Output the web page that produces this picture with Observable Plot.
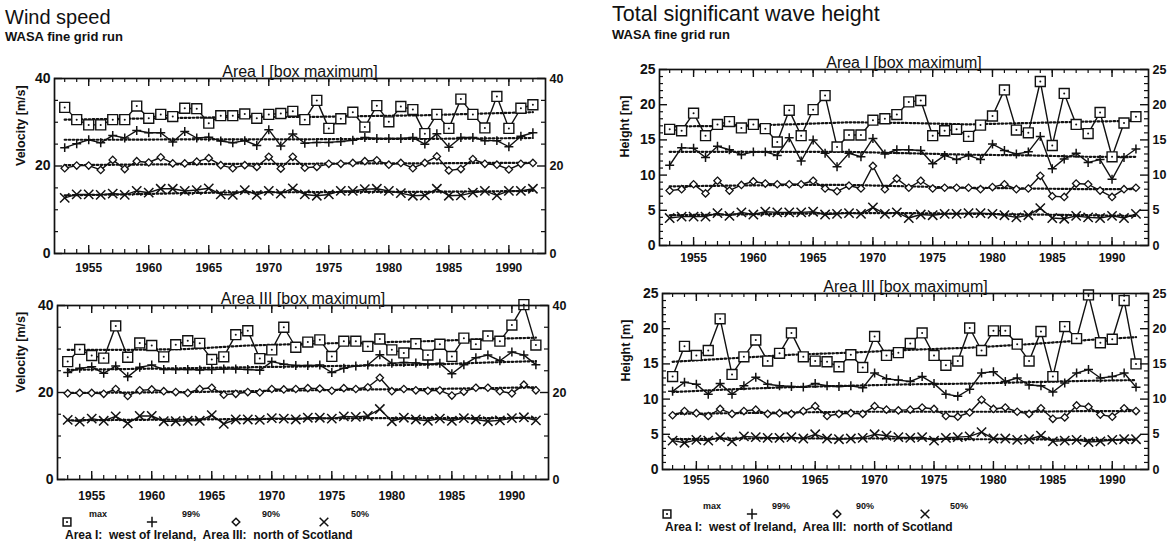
<!DOCTYPE html>
<html><head><meta charset="utf-8">
<script src="https://cdn.jsdelivr.net/npm/d3@7"></script>
<script src="https://cdn.jsdelivr.net/npm/@observablehq/plot@0.6"></script>
<style>
html,body{margin:0;padding:0;background:#fff;}
#root{position:relative;width:1176px;height:548px;overflow:hidden;font-family:"Liberation Sans",Arial,Helvetica,sans-serif;color:#111;}
.abs{position:absolute;white-space:pre;line-height:1;}
.title{font-size:20px;}
.title2{font-size:21.5px;}
.sub{font-size:13px;font-weight:bold;}
.cap{font-size:12px;font-weight:bold;}
</style></head><body><div id="root"></div>
<script>
// ---------------- data ----------------
const years = [1953,1954,1955,1956,1957,1958,1959,1960,1961,1962,1963,1964,1965,1966,1967,1968,1969,1970,1971,1972,
               1973,1974,1975,1976,1977,1978,1979,1980,1981,1982,1983,1984,1985,1986,1987,1988,1989,1990,1991,1992];
const xTickYears = [1955,1960,1965,1970,1975,1980,1985,1990];
const trendYears = [1953,1958,1963,1968,1973,1978,1983,1988,1992];
const seriesNames = ["max","99%","90%","50%"];
const windTicks = [0,20,40];
const windMinor = [5,10,15,25,30,35];
const waveTicks = [0,5,10,15,20,25];
const waveMinor = [1,2,3,4,6,7,8,9,11,12,13,14,16,17,18,19,21,22,23,24];

// Wind speed, Area I (west of Ireland) [m/s]
const windI_max = [33.4,30.6,29.4,29.4,30.6,30.6,33.7,30.9,31.8,31.3,33.2,33.1,29.8,31.5,31.5,31.9,30.9,31.8,32.0,32.5,
                   30.6,35.0,28.6,30.8,32.3,28.9,33.8,30.1,33.6,32.9,27.4,31.8,28.6,35.3,31.8,28.7,35.9,28.6,33.2,34.0];
const windI_p99 = [24.2,25.1,26.0,25.3,27.0,26.4,28.1,27.6,27.6,25.5,27.9,26.4,26.6,25.7,25.3,25.8,24.7,28.3,24.6,27.3,
                   25.2,25.4,25.4,25.6,25.9,26.5,26.3,26.3,26.3,26.5,25.0,27.4,24.3,26.5,26.5,25.8,25.8,24.4,26.8,27.6];
const windI_p90 = [19.5,20.1,20.1,19.1,21.4,19.3,21.1,20.8,22.0,20.6,20.6,21.0,21.8,20.2,19.5,20.2,19.8,22.1,19.4,22.1,
                   19.6,19.8,20.5,20.5,20.7,21.1,21.3,20.3,20.7,19.5,20.7,22.2,19.0,19.3,21.6,20.5,20.3,19.2,20.5,20.7];
const windI_p50 = [12.7,13.5,13.5,13.4,13.7,13.4,14.3,13.9,14.8,14.8,14.3,14.5,14.9,13.5,13.4,14.5,13.4,14.3,13.7,14.9,
                   13.5,13.2,13.5,14.3,14.3,14.7,14.8,14.3,13.8,13.2,13.3,14.8,13.2,13.3,13.9,14.3,13.3,14.3,14.3,14.8];
const windI_tmax = [30.6,30.8,31.0,31.2,31.2,31.4,31.6,32.0,32.3];
const windI_t99  = [26.0,26.0,26.1,26.1,26.1,26.2,26.2,26.3,26.4];
const windI_t90  = [20.2,20.3,20.4,20.5,20.5,20.6,20.6,20.7,20.7];
const windI_t50  = [13.3,13.5,13.8,14.0,14.0,14.1,14.1,14.2,14.3];

// Wind speed, Area III (north of Scotland) [m/s]
const windIII_max = [27.1,29.9,28.5,27.9,35.3,28.1,31.4,30.8,28.2,31.0,31.9,31.3,27.6,28.2,33.3,34.2,27.8,29.8,35.0,30.4,
                     31.6,32.1,28.3,31.8,31.8,30.6,32.3,29.8,29.1,31.2,28.6,31.1,28.3,32.5,31.1,33.0,31.8,35.5,40.2,30.9];
const windIII_p99 = [24.6,25.6,25.9,24.4,26.1,23.6,25.8,26.3,25.3,25.3,25.3,25.2,25.3,25.4,25.4,25.3,25.1,27.1,26.5,26.2,
                     26.2,26.3,24.6,25.6,26.1,26.3,28.7,26.7,26.9,26.8,26.5,26.7,24.3,26.4,28.0,28.6,27.3,29.3,28.6,26.4];
const windIII_p90 = [19.8,19.9,19.9,19.7,20.8,19.2,20.5,20.7,20.3,20.1,19.9,20.8,21.1,19.5,19.7,20.1,20.0,20.8,20.7,20.8,
                     21.0,20.9,20.4,21.0,20.8,21.2,23.4,20.3,20.8,20.5,20.4,20.5,19.3,20.2,21.1,21.1,20.3,19.8,21.8,20.5];
const windIII_p50 = [13.7,13.3,14.0,13.5,14.5,12.9,14.6,14.6,13.4,13.4,13.5,13.5,14.8,12.8,13.8,13.8,13.7,14.1,14.0,13.8,
                     14.2,14.2,14.0,14.5,14.4,14.6,16.2,13.4,14.2,13.8,13.5,14.0,13.5,14.1,13.8,13.4,13.6,14.1,14.3,13.6];
const windIII_tmax = [29.8,29.8,30.0,30.8,31.2,31.5,31.8,32.3,32.6];
const windIII_t99  = [25.2,25.4,25.6,25.8,26.0,26.2,26.4,26.9,27.2];
const windIII_t90  = [19.9,20.0,20.1,20.3,20.5,20.7,20.8,21.0,21.2];
const windIII_t50  = [13.6,13.7,13.8,13.9,14.0,14.1,14.1,14.1,14.2];

// Total significant wave height, Area I [m]
const waveI_max = [16.5,16.3,18.8,15.6,17.2,17.6,16.7,17.2,16.6,14.7,19.2,15.6,19.3,21.3,14.0,15.7,15.7,17.8,18.0,18.6,
                   20.4,20.6,15.6,16.3,16.5,15.5,17.1,18.4,22.1,16.4,16.0,23.3,14.2,21.6,17.2,15.9,18.9,12.6,17.4,18.3];
const waveI_p99 = [11.4,13.9,13.8,12.5,14.1,13.6,12.9,13.3,13.3,12.8,15.3,12.0,15.0,13.1,11.2,13.1,12.6,15.2,13.0,13.6,
                   13.6,13.5,11.6,12.8,12.2,12.8,12.2,14.4,13.5,13.0,13.3,15.5,10.9,12.3,13.1,11.8,12.2,9.4,12.5,13.7];
const waveI_p90 = [7.8,8.0,8.7,7.4,9.2,7.8,8.6,9.1,8.8,8.7,8.7,8.7,9.2,8.1,7.7,8.5,8.1,11.3,8.0,9.5,
                   8.2,9.2,8.1,8.2,8.2,8.2,8.0,8.3,8.7,8.0,8.1,9.9,7.0,6.9,8.8,8.7,7.8,6.9,8.0,8.2];
const waveI_p50 = [3.9,4.1,4.1,4.1,4.6,4.2,4.7,4.4,4.8,4.7,4.7,4.7,4.8,4.4,4.5,4.6,4.5,5.4,4.5,4.7,
                   3.9,4.4,4.3,4.5,4.5,4.6,4.6,4.5,4.3,4.0,4.3,5.3,3.9,3.8,4.2,4.0,3.9,4.2,3.9,4.5];
const waveI_tmax = [16.9,17.0,17.2,17.5,17.4,17.2,17.4,17.6,17.7];
const waveI_t99  = [13.3,13.3,13.3,13.3,13.1,12.9,12.8,12.6,12.6];
const waveI_t90  = [8.4,8.5,8.6,8.6,8.4,8.2,8.1,8.0,8.0];
const waveI_t50  = [4.3,4.4,4.5,4.6,4.6,4.5,4.4,4.3,4.2];

// Total significant wave height, Area III [m]
const waveIII_max = [13.2,17.5,16.2,16.9,21.4,13.5,16.0,18.4,15.4,16.5,19.4,16.0,15.4,15.3,14.6,16.3,14.5,18.9,16.2,16.6,
                     17.9,19.4,16.2,14.8,15.4,20.1,16.9,19.7,19.7,17.8,15.4,19.6,13.2,20.3,18.6,24.8,18.0,18.5,24.0,15.0];
const waveIII_p99 = [11.1,12.4,12.1,10.7,12.2,10.7,11.9,13.1,12.1,11.9,11.8,11.7,12.2,11.9,11.8,11.9,11.6,13.7,12.9,12.7,
                     12.5,13.2,12.2,10.7,10.4,11.4,13.7,13.9,12.5,13.0,12.0,11.9,11.0,12.3,13.7,14.2,13.0,13.2,13.7,11.7];
const waveIII_p90 = [7.7,8.3,8.0,7.6,8.6,7.9,8.3,8.5,7.9,8.0,7.9,8.3,9.0,7.6,7.9,8.0,7.9,9.0,8.5,8.4,
                     8.5,8.8,8.6,7.6,7.5,8.1,9.9,8.6,8.8,8.2,7.9,8.7,7.2,7.4,9.1,8.9,7.8,7.5,8.7,8.3];
const waveIII_p50 = [4.1,3.8,4.2,4.1,4.6,4.0,4.7,4.6,4.5,4.5,4.6,4.4,5.0,4.4,4.3,4.4,4.5,5.0,4.8,4.6,
                     4.5,4.6,4.1,4.5,4.6,4.7,5.3,4.4,4.4,4.2,4.3,4.8,4.0,4.1,4.2,3.9,4.0,4.2,4.3,4.3];
const waveIII_tmax = [15.3,15.8,16.3,16.6,17.0,17.3,17.8,18.4,18.8];
const waveIII_t99  = [11.0,11.4,11.7,11.9,12.1,12.2,12.4,12.6,12.7];
const waveIII_t90  = [7.9,8.0,8.1,8.2,8.2,8.2,8.2,8.3,8.3];
const waveIII_t50  = [4.3,4.4,4.4,4.4,4.4,4.3,4.3,4.2,4.2];

// ---------------- drawing ----------------
const FONT = '"Liberation Sans", Arial, Helvetica, sans-serif';
const INK = "#111";
const xDomain = [1952.15, 1993.05];
const root = document.getElementById("root");

function addText(txt, cls, left, top, extra) {
  const d = document.createElement("div");
  d.className = "abs " + cls;
  d.textContent = txt;
  d.style.left = left + "px";
  d.style.top = top + "px";
  if (extra) Object.assign(d.style, extra);
  root.appendChild(d);
}

function makePanel(cfg) {
  const {width, height, mL, mR, mT, mB} = cfg;
  const fw = width - mL - mR, fh = height - mT - mB;
  const rows = [];
  cfg.series.forEach((vals, i) => vals.forEach((v, j) => rows.push({year: years[j], value: v, s: seriesNames[i]})));
  const trows = [];
  cfg.trends.forEach((vals, i) => vals.forEach((v, j) => trows.push({year: trendYears[j], value: v, s: seriesNames[i]})));
  const of = n => rows.filter(r => r.s === n);
  const xy = {x: "year", y: "value"};
  const plot = Plot.plot({
    width, height, marginLeft: mL, marginRight: mR, marginTop: mT, marginBottom: mB,
    x: {domain: xDomain}, y: {domain: cfg.yDomain},
    style: {fontFamily: FONT, fontWeight: "bold", color: INK, background: "transparent", overflow: "visible"},
    marks: [
      Plot.line(trows, {...xy, z: "s", stroke: INK, strokeWidth: 2.2, strokeDasharray: "1.6,2.4"}),
      Plot.line(rows, {...xy, z: "s", stroke: INK, strokeWidth: 1.4}),
      Plot.dot(of("max"), {...xy, symbol: "square", r: 5.6, fill: "white", stroke: INK, strokeWidth: 1.4}),
      Plot.dot(of("max"), {...xy, r: 1, fill: INK}),
      Plot.dot(of("99%"), {...xy, symbol: "plus", r: 3, stroke: INK, strokeWidth: 1.5}),
      Plot.dot(of("90%"), {...xy, symbol: "diamond2", r: 3.3, fill: "white", stroke: INK, strokeWidth: 1.3}),
      Plot.dot(of("50%"), {...xy, symbol: "times", r: 4.3, stroke: INK, strokeWidth: 1.5}),
      Plot.frame({stroke: INK, strokeWidth: 1.7}),
      // inward ticks, bottom and top
      Plot.tickX(years, {x: d => d, insetTop: fh - 4, stroke: INK, strokeWidth: 1.2}),
      Plot.tickX(xTickYears, {x: d => d, insetTop: fh - 8, stroke: INK, strokeWidth: 1.4}),
      Plot.tickX(years, {x: d => d, insetBottom: fh - 4, stroke: INK, strokeWidth: 1.2}),
      Plot.tickX(xTickYears, {x: d => d, insetBottom: fh - 8, stroke: INK, strokeWidth: 1.4}),
      // inward ticks, left and right
      Plot.tickY(cfg.yMinor, {y: d => d, insetRight: fw - 4, stroke: INK, strokeWidth: 1.2}),
      Plot.tickY(cfg.yTicks, {y: d => d, insetRight: fw - 8, stroke: INK, strokeWidth: 1.4}),
      Plot.tickY(cfg.yMinor, {y: d => d, insetLeft: fw - 4, stroke: INK, strokeWidth: 1.2}),
      Plot.tickY(cfg.yTicks, {y: d => d, insetLeft: fw - 8, stroke: INK, strokeWidth: 1.4}),
      Plot.axisX({ticks: xTickYears, tickSize: 0, tickPadding: cfg.xPad, tickFormat: d => String(d), fontSize: 12, label: null}),
      Plot.axisY({anchor: "left", ticks: cfg.yTicks, tickSize: 0, tickPadding: 4, fontSize: 14, label: null}),
      Plot.axisY({anchor: "right", ticks: cfg.yTicks, tickSize: 0, tickPadding: 4, fontSize: 12.5, label: null}),
      Plot.text([cfg.title], {frameAnchor: "top", text: d => d, lineAnchor: "bottom", dy: -2, fontSize: 16, fontWeight: "normal", fill: INK}),
      Plot.text([cfg.yLabel], {frameAnchor: "left", text: d => d, rotate: -90, dx: cfg.yLabelDx, fontSize: 12.5, fontWeight: "bold", fill: INK})
    ]
  });
  plot.style.position = "absolute";
  plot.style.left = cfg.left + "px";
  plot.style.top = cfg.top + "px";
  root.appendChild(plot);
}

makePanel({left: 0, top: 40, width: 590, height: 240, mL: 54, mR: 45, mT: 38, mB: 27, xPad: 10,
  yDomain: [0, 40], yTicks: windTicks, yMinor: windMinor, yLabel: "Velocity [m/s]", yLabelDx: -34,
  title: "Area I [box maximum]",
  series: [windI_max, windI_p99, windI_p90, windI_p50], trends: [windI_tmax, windI_t99, windI_t90, windI_t50]});
makePanel({left: 0, top: 270, width: 590, height: 240, mL: 57, mR: 42, mT: 35, mB: 31, xPad: 12,
  yDomain: [0, 40], yTicks: windTicks, yMinor: windMinor, yLabel: "Velocity [m/s]", yLabelDx: -37,
  title: "Area III [box maximum]",
  series: [windIII_max, windIII_p99, windIII_p90, windIII_p50], trends: [windIII_tmax, windIII_t99, windIII_t90, windIII_t50]});
makePanel({left: 590, top: 40, width: 586, height: 240, mL: 69, mR: 28, mT: 29, mB: 35, xPad: 8,
  yDomain: [0, 25], yTicks: waveTicks, yMinor: waveMinor, yLabel: "Height [m]", yLabelDx: -35,
  title: "Area I [box maximum]",
  series: [waveI_max, waveI_p99, waveI_p90, waveI_p50], trends: [waveI_tmax, waveI_t99, waveI_t90, waveI_t50]});
makePanel({left: 590, top: 270, width: 586, height: 240, mL: 72, mR: 28, mT: 23, mB: 41, xPad: 6,
  yDomain: [0, 25], yTicks: waveTicks, yMinor: waveMinor, yLabel: "Height [m]", yLabelDx: -37,
  title: "Area III [box maximum]",
  series: [waveIII_max, waveIII_p99, waveIII_p90, waveIII_p50], trends: [waveIII_tmax, waveIII_t99, waveIII_t90, waveIII_t50]});

// titles
addText("Wind speed", "title", 5, 7);
addText("WASA fine grid run", "sub", 5, 30);
addText("Total significant wave height", "title2", 612, 4);
addText("WASA fine grid run", "sub", 612, 28);

// legends
const legendSymbols = ["square", "plus", "diamond2", "times"];
const symbolMap = {square: d3.symbolSquare, plus: d3.symbolPlus, diamond2: d3.symbolDiamond2, times: d3.symbolTimes};
const symbolR = {square: 4.4, plus: 3.4, diamond2: 3.4, times: 4};
function legend(x0, y0, symX, txtX, capY) {
  const svg = d3.select(root).append("svg")
    .attr("width", 420).attr("height", 40)
    .style("position", "absolute").style("left", x0 + "px").style("top", y0 + "px").style("overflow", "visible");
  legendSymbols.forEach((s, i) => {
    const g = svg.append("g").attr("transform", `translate(${symX[i]},14)`);
    g.append("path").attr("d", d3.symbol(symbolMap[s], Math.PI * symbolR[s] ** 2)())
      .attr("fill", (s === "square" || s === "diamond2") ? "white" : "none")
      .attr("stroke", INK).attr("stroke-width", 1.5);
    if (s === "square") g.append("circle").attr("r", 1.1).attr("fill", INK);
    svg.append("text").attr("x", txtX[i]).attr("y", 9).attr("text-anchor", "middle")
      .attr("font-family", FONT).attr("font-size", 9).attr("font-weight", "bold").attr("fill", INK)
      .text(seriesNames[i]);
  });
  addText("Area I:  west of Ireland,  Area III:  north of Scotland", "cap", x0 + 3, capY);
}
legend(62, 508, [5, 90, 174, 262], [36, 129, 209, 298], 529);
legend(662, 500, [5, 90, 175, 263], [50, 119, 203, 297], 521);
</script></body></html>
